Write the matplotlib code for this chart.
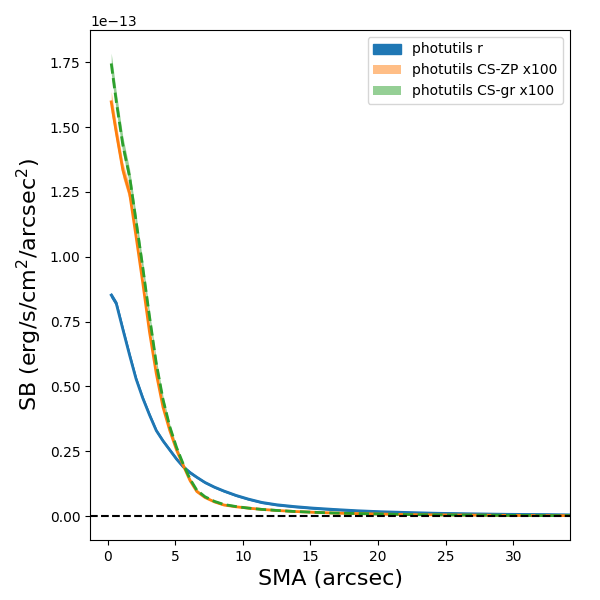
import matplotlib.pyplot as plt
import numpy as np

# SMA grid (arcsec)
sma = np.array([0.27, 0.64, 1.13, 1.63, 2.1, 2.6, 3.1, 3.6, 4.1, 4.6, 5.1, 5.6,
                6.1, 6.6, 7.2, 7.9, 8.6, 9.5, 10.4, 11.4, 12.5, 13.8, 15.2, 16.7,
                18.4, 20.2, 22.2, 24.4, 26.9, 29.6, 32.5, 34.2])

# surface brightness, units of 1e-13 erg/s/cm2/arcsec2
sb_r = np.array([0.852, 0.82, 0.72, 0.62, 0.53, 0.455, 0.39, 0.33, 0.29, 0.255,
                 0.22, 0.19, 0.168, 0.15, 0.13, 0.112, 0.097, 0.08, 0.066, 0.053,
                 0.044, 0.037, 0.031, 0.026, 0.021, 0.017, 0.014, 0.011, 0.009,
                 0.007, 0.006, 0.005])
err_r = np.array([0.006, 0.006, 0.005, 0.005, 0.004, 0.004, 0.004, 0.003, 0.003,
                  0.003, 0.003, 0.003, 0.003, 0.002, 0.002, 0.002, 0.002, 0.002,
                  0.002, 0.002, 0.002, 0.002, 0.002, 0.002, 0.002, 0.002, 0.002,
                  0.002, 0.002, 0.002, 0.002, 0.002])

sb_zp = np.array([1.597, 1.48, 1.334, 1.244, 1.08, 0.90, 0.71, 0.55, 0.42, 0.33,
                  0.255, 0.195, 0.137, 0.095, 0.072, 0.055, 0.043, 0.036, 0.031,
                  0.026, 0.022, 0.018, 0.015, 0.012, 0.010, 0.008, 0.006, 0.005,
                  0.004, 0.003, 0.002, 0.002])
err_zp = np.array([0.04, 0.035, 0.03, 0.028, 0.025, 0.02, 0.017, 0.014, 0.011,
                   0.009, 0.007, 0.006, 0.005, 0.004, 0.003, 0.003, 0.003, 0.002,
                   0.002, 0.002, 0.002, 0.002, 0.002, 0.002, 0.002, 0.002, 0.002,
                   0.002, 0.002, 0.002, 0.002, 0.002])

sb_gr = np.array([1.745, 1.60, 1.43, 1.308, 1.14, 0.96, 0.77, 0.59, 0.45, 0.345,
                  0.265, 0.20, 0.143, 0.10, 0.075, 0.057, 0.045, 0.037, 0.031,
                  0.026, 0.022, 0.018, 0.015, 0.012, 0.010, 0.008, 0.006, 0.005,
                  0.004, 0.003, 0.002, 0.002])
err_gr = np.array([0.04, 0.036, 0.032, 0.029, 0.026, 0.022, 0.018, 0.015, 0.012,
                   0.009, 0.007, 0.006, 0.005, 0.004, 0.003, 0.003, 0.003, 0.002,
                   0.002, 0.002, 0.002, 0.002, 0.002, 0.002, 0.002, 0.002, 0.002,
                   0.002, 0.002, 0.002, 0.002, 0.002])

scale = 1e-13

fig = plt.figure(figsize=(6, 6), dpi=100)
ax = fig.add_axes([0.15, 0.1, 0.8, 0.85])

ax.fill_between(sma, (sb_r - err_r) * scale, (sb_r + err_r) * scale,
                color='C0', label='photutils r')
ax.plot(sma, sb_r * scale, color='C0', lw=2)

ax.fill_between(sma, (sb_zp - err_zp) * scale, (sb_zp + err_zp) * scale,
                color='C1', alpha=0.5, lw=0, label='photutils CS-ZP x100')
ax.plot(sma, sb_zp * scale, color='C1', lw=2)

ax.fill_between(sma, (sb_gr - err_gr) * scale, (sb_gr + err_gr) * scale,
                color='C2', alpha=0.5, lw=0, label='photutils CS-gr x100')
ax.plot(sma, sb_gr * scale, color='C2', lw=2, ls='--')

ax.axhline(0, color='k', ls='--', lw=1.5)

ax.set_xlim(-1.3, 34.2)
ax.set_ylim(-0.092e-13, 1.874e-13)
ax.set_xlabel('SMA (arcsec)', fontsize=16)
ax.set_ylabel('SB (erg/s/cm$^2$/arcsec$^2$)', fontsize=16)
ax.legend(loc='upper right')

fig.savefig('out.png')
